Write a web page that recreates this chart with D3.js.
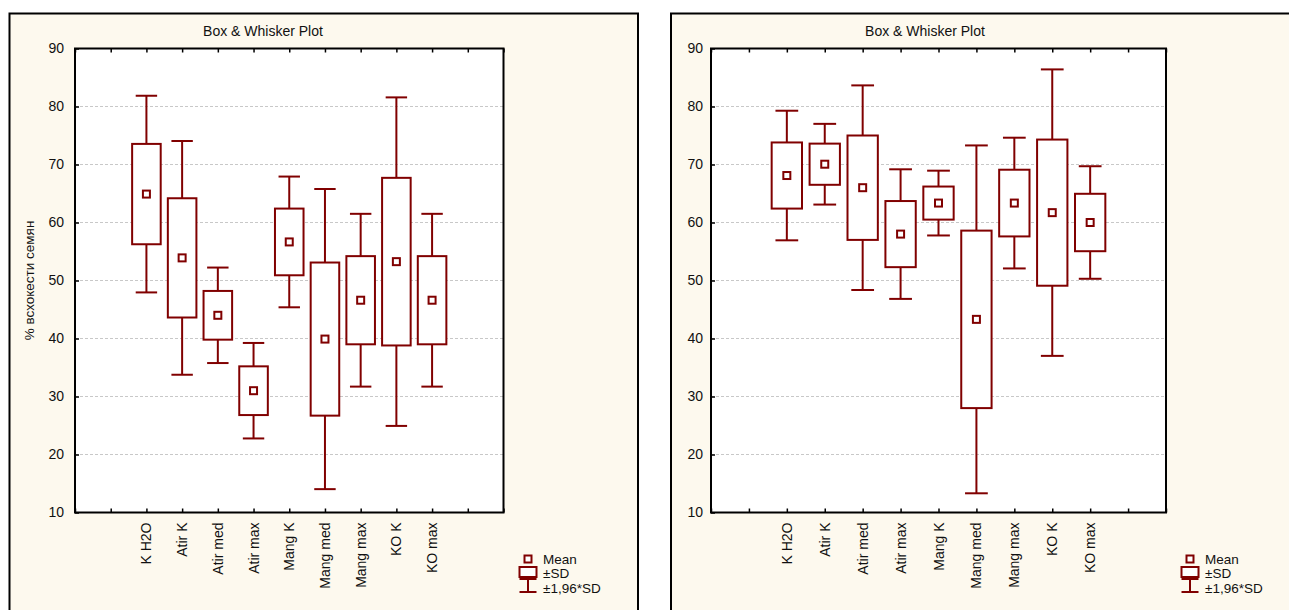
<!DOCTYPE html>
<html>
<head>
<meta charset="utf-8">
<script src="https://cdn.jsdelivr.net/npm/d3@7"></script>
<style>
  html, body { margin: 0; padding: 0; background: #fff; }
  text { font-family: Arial, "Liberation Sans", sans-serif; fill: #111; }
</style>
</head>
<body>
<svg id="chart" width="1289" height="610"></svg>
<script>
// groups on the x axis (same for both plots)
const categories = ['K H2O', 'Atir K', 'Atir med', 'Atir max', 'Mang K', 'Mang med', 'Mang max', 'KO K', 'KO max'];

// left plot: mean and standard deviation
const leftMeans = [64.9, 53.9, 44.0, 31.0, 56.65, 39.9, 46.6, 53.25, 46.6];
const leftSD = [8.65, 10.28, 4.2, 4.2, 5.75, 13.2, 7.6, 14.45, 7.6];

// right plot: mean and standard deviation
const rightMeans = [68.1, 70.05, 66.0, 58.0, 63.35, 43.3, 63.35, 61.7, 60.0];
const rightSD = [5.7, 3.55, 9.0, 5.7, 2.85, 15.3, 5.75, 12.6, 4.95];

const yTicks = [10, 20, 30, 40, 50, 60, 70, 80, 90];
const legendLabels = ['Mean', '\u00b1SD', '\u00b11,96*SD'];

const RED = '#800000';
const CREAM = '#fdf9ee';

const svg = d3.select('#chart');

function drawPanel(o) {
  const g = svg.append('g');

  // outer frame of the graph window
  g.append('rect')
    .attr('x', o.frame[0]).attr('y', o.frame[1])
    .attr('width', o.frame[2]).attr('height', o.frame[3])
    .attr('fill', CREAM).attr('stroke', '#000').attr('stroke-width', 2);

  const y = d3.scaleLinear().domain([10, 90]).range([o.y1, o.y0]);
  // 13 tick slots, groups sit on slots 2..10
  const x = d3.scaleLinear().domain([0, 12]).range([o.x0, o.x1]);
  const band = x(1) - x(0);

  g.append('rect')
    .attr('x', o.x0).attr('y', o.y0)
    .attr('width', o.x1 - o.x0).attr('height', o.y1 - o.y0)
    .attr('fill', '#fff');

  // grid
  g.append('g').selectAll('line').data(yTicks.slice(1, -1)).enter()
    .append('line')
    .attr('x1', o.x0).attr('x2', o.x1)
    .attr('y1', d => y(d)).attr('y2', d => y(d))
    .attr('stroke', '#c8c8c8').attr('stroke-width', 1).attr('stroke-dasharray', '3,2');

  // y axis with inward ticks
  const yAxis = g.append('g').attr('transform', `translate(${o.x0},0)`)
    .call(d3.axisLeft(y).tickValues(yTicks).tickSize(-4).tickPadding(o.pad).tickFormat(d3.format('d')));
  yAxis.select('.domain').remove();
  yAxis.selectAll('line').attr('stroke', '#000').attr('stroke-width', 1.5);
  yAxis.selectAll('text').attr('font-size', 14).attr('font-family', 'Arial, "Liberation Sans", sans-serif').attr('fill', '#111');

  // bottom and top ticks
  const slots = d3.range(13);
  const xAxis = g.append('g').attr('transform', `translate(0,${o.y1})`)
    .call(d3.axisBottom(x).tickValues(slots).tickSize(-4).tickFormat(''));
  xAxis.select('.domain').remove();
  xAxis.selectAll('line').attr('stroke', '#000').attr('stroke-width', 1.5);
  const xTop = g.append('g').attr('transform', `translate(0,${o.y0})`)
    .call(d3.axisTop(x).tickValues(slots).tickSize(-4).tickFormat(''));
  xTop.select('.domain').remove();
  xTop.selectAll('line').attr('stroke', '#000').attr('stroke-width', 1.5);

  // plot border
  g.append('rect')
    .attr('x', o.x0).attr('y', o.y0)
    .attr('width', o.x1 - o.x0).attr('height', o.y1 - o.y0)
    .attr('fill', 'none').attr('stroke', '#000').attr('stroke-width', 2);

  // category labels, rotated
  g.append('g').selectAll('text').data(categories).enter()
    .append('text')
    .attr('transform', (d, i) => `translate(${x(i + 2) + 5},${o.y1 + 10}) rotate(-90)`)
    .attr('text-anchor', 'end')
    .attr('font-size', 14)
    .text(d => d);

  // title
  g.append('text')
    .attr('x', o.titleX).attr('y', 36)
    .attr('text-anchor', 'middle').attr('font-size', 14)
    .text('Box & Whisker Plot');

  if (o.yTitle) {
    g.append('text')
      .attr('transform', `translate(34,${(o.y0 + o.y1) / 2}) rotate(-90)`)
      .attr('text-anchor', 'middle').attr('font-size', 13.5)
      .text(o.yTitle);
  }

  const rows = categories.map((c, i) => ({ c, i, m: o.means[i], s: o.sd[i] }));
  const boxW = band * 0.8;
  const capW = band * 0.6;

  const marks = g.append('g').selectAll('g').data(rows).enter().append('g');

  marks.append('line')
    .attr('x1', d => x(d.i + 2)).attr('x2', d => x(d.i + 2))
    .attr('y1', d => y(d.m + 1.96 * d.s)).attr('y2', d => y(d.m - 1.96 * d.s))
    .attr('stroke', RED).attr('stroke-width', 2);
  marks.append('line')
    .attr('x1', d => x(d.i + 2) - capW / 2).attr('x2', d => x(d.i + 2) + capW / 2)
    .attr('y1', d => y(d.m + 1.96 * d.s)).attr('y2', d => y(d.m + 1.96 * d.s))
    .attr('stroke', RED).attr('stroke-width', 2);
  marks.append('line')
    .attr('x1', d => x(d.i + 2) - capW / 2).attr('x2', d => x(d.i + 2) + capW / 2)
    .attr('y1', d => y(d.m - 1.96 * d.s)).attr('y2', d => y(d.m - 1.96 * d.s))
    .attr('stroke', RED).attr('stroke-width', 2);
  marks.append('rect')
    .attr('x', d => x(d.i + 2) - boxW / 2).attr('width', boxW)
    .attr('y', d => y(d.m + d.s)).attr('height', d => y(d.m - d.s) - y(d.m + d.s))
    .attr('fill', '#fff').attr('stroke', RED).attr('stroke-width', 2);
  marks.append('rect')
    .attr('x', d => x(d.i + 2) - 3.5).attr('y', d => y(d.m) - 3.5)
    .attr('width', 7).attr('height', 7)
    .attr('fill', '#fff').attr('stroke', RED).attr('stroke-width', 2);

  // legend
  const lx = o.legendX;
  const lg = g.append('g');
  lg.append('rect').attr('x', lx - 3.5).attr('y', 555.5).attr('width', 7).attr('height', 7)
    .attr('fill', '#fff').attr('stroke', RED).attr('stroke-width', 2);
  lg.append('rect').attr('x', lx - 8.5).attr('y', 567).attr('width', 17).attr('height', 10)
    .attr('fill', '#fff').attr('stroke', RED).attr('stroke-width', 2);
  lg.append('line').attr('x1', lx).attr('x2', lx).attr('y1', 579).attr('y2', 592)
    .attr('stroke', RED).attr('stroke-width', 2);
  lg.append('line').attr('x1', lx - 8.5).attr('x2', lx + 8.5).attr('y1', 579).attr('y2', 579)
    .attr('stroke', RED).attr('stroke-width', 2);
  lg.append('line').attr('x1', lx - 8.5).attr('x2', lx + 8.5).attr('y1', 592).attr('y2', 592)
    .attr('stroke', RED).attr('stroke-width', 2);
  lg.selectAll('text').data(legendLabels).enter()
    .append('text')
    .attr('x', lx + 15).attr('y', (d, i) => 563.5 + i * 14.5)
    .attr('font-size', 13.5)
    .text(d => d);
}

drawPanel({
  frame: [9.5, 13.5, 628.5, 620],
  x0: 75, x1: 503.5, y0: 48.5, y1: 512.5,
  pad: 11,
  titleX: 263,
  yTitle: '% всхокести семян',
  means: leftMeans, sd: leftSD,
  legendX: 528
});

drawPanel({
  frame: [671, 13.5, 640, 620],
  x0: 711, x1: 1166, y0: 48.5, y1: 512.5,
  pad: 8,
  titleX: 925,
  means: rightMeans, sd: rightSD,
  legendX: 1190
});
</script>
</body>
</html>
